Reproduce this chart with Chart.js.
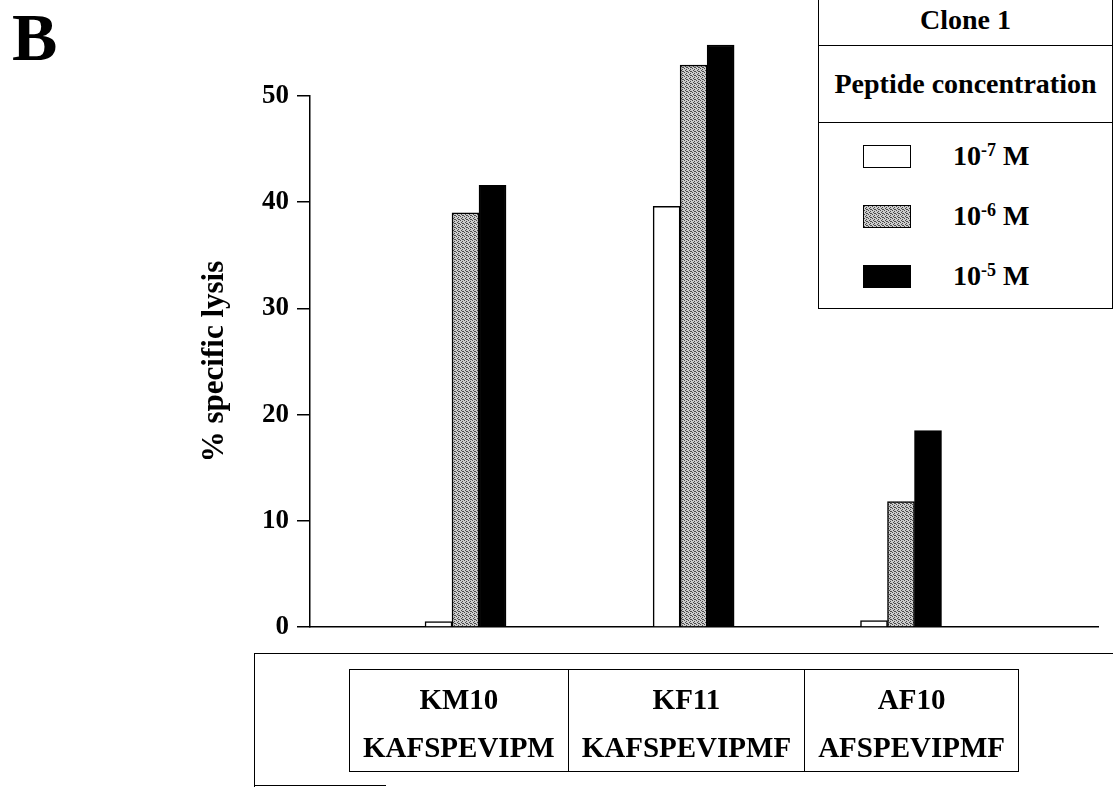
<!DOCTYPE html>
<html>
<head>
<meta charset="utf-8">
<script src="https://cdn.jsdelivr.net/npm/chart.js@4.4.1/dist/chart.umd.min.js"></script>
<style>
  body { margin: 0; background: #fff; overflow: hidden; }
  #wrap { position: relative; width: 1113px; height: 787px; font-family: 'Liberation Serif', 'Times New Roman', serif; font-weight: bold; color: #000; }
  #chart { position: absolute; left: 0; top: 0; }
  .panel { position: absolute; left: 12px; top: 3px; font-size: 68px; line-height: 68px; }
  #legend { position: absolute; left: 818px; top: -2px; width: 295px; height: 311px; box-sizing: border-box; border: 1.5px solid #000; font-size: 28px; background: #fff; }
  #legend .head1 { height: 46px; line-height: 42px; text-align: center; border-bottom: 1.5px solid #000; }
  #legend .head2 { height: 76px; line-height: 76px; text-align: center; border-bottom: 1.5px solid #000; white-space: nowrap; }
  #legend .items { padding-top: 3px; }
  #legend .item { position: relative; height: 60px; }
  #legend .sw { position: absolute; left: 44px; top: 19px; width: 46px; height: 21px; border: 1.5px solid #000; }
  #legend .lab { position: absolute; left: 134px; top: 0; line-height: 60px; }
  #legend sup { font-size: 18px; vertical-align: 9px; line-height: 0; }
  #frame { position: absolute; left: 254px; top: 653px; width: 900px; height: 200px; border-top: 1.5px solid #000; border-left: 1.5px solid #000; }
  #frameFoot { position: absolute; left: 254px; top: 785px; width: 132px; border-top: 1.5px solid #000; }
  #peptides { position: absolute; left: 349px; top: 669px; border-collapse: collapse; font-size: 29px; }
  #peptides td { border: 1.5px solid #000; padding: 5px 13px 0 13px; text-align: center; line-height: 48px; height: 98px; box-sizing: border-box; white-space: nowrap; }
</style>
</head>
<body>
<div id="wrap">
  <canvas id="chart" width="1113" height="787"></canvas>
  <div class="panel">B</div>
  <div id="legend"></div>
  <div id="frame"></div>
  <div id="frameFoot"></div>
  <table id="peptides"><tr id="pepRow"></tr></table>
</div>
<script>
const peptides = ['KM10', 'KF11', 'AF10'];
const sequences = ['KAFSPEVIPM', 'KAFSPEVIPMF', 'AFSPEVIPMF'];
const concExponents = [-7, -6, -5];
const lysis1e7 = [0.5, 39.6, 0.6];
const lysis1e6 = [39.0, 52.9, 11.8];
const lysis1e5 = [41.6, 54.8, 18.5];
const yTicks = [0, 10, 20, 30, 40, 50];

// slot layout on the category axis (the groups are not evenly spaced in the figure)
const slotCount = 38;
const groupSlots = [7, 18, 28];

function stipple() {
    const c = document.createElement('canvas');
    c.width = 4; c.height = 4;
    const g = c.getContext('2d');
    g.fillStyle = '#cccccc';
    g.fillRect(0, 0, 4, 4);
    g.fillStyle = '#4a4a4a';
    [[0, 0], [2, 1], [1, 2], [3, 3], [2, 3]].forEach(([x, y]) => g.fillRect(x, y, 1, 1));
    return c;
}

function spread(values) {
    const out = new Array(slotCount).fill(null);
    groupSlots.forEach((s, i) => { out[s] = values[i]; });
    return out;
}

function init() {
    const tile = stipple();
    const ctx = document.getElementById('chart').getContext('2d');
    const fills = ['#ffffff', ctx.createPattern(tile, 'repeat'), '#000000'];
    const cssFills = ['#ffffff', `url(${tile.toDataURL()})`, '#000000'];
    const series = [lysis1e7, lysis1e6, lysis1e5];

    const labels = new Array(slotCount).fill('');
    groupSlots.forEach((s, i) => { labels[s] = peptides[i]; });

    const datasets = series.map((vals, i) => ({
        label: `10^${concExponents[i]} M`,
        data: spread(vals),
        backgroundColor: fills[i],
        borderColor: '#000',
        borderWidth: 1.5,
        barThickness: 27,
        clip: false
    }));

    const font = { family: "'Liberation Serif', 'Times New Roman', serif", weight: 'bold' };

    new Chart(ctx, {
        type: 'bar',
        data: { labels, datasets },
        options: {
            responsive: false,
            animation: false,
            layout: { padding: { left: 190, right: 15, top: 96, bottom: 160 } },
            plugins: { legend: { display: false }, tooltip: { enabled: false } },
            scales: {
                x: {
                    grid: { display: false },
                    border: { display: true, color: '#000', width: 1.5 },
                    ticks: { display: false },
                    afterFit: axis => { axis.height = 0; }
                },
                y: {
                    min: 0,
                    max: 50,
                    afterBuildTicks: axis => { axis.ticks = yTicks.map(v => ({ value: v })); },
                    grid: { display: true, drawOnChartArea: false, drawTicks: true, tickLength: 13, color: '#000', lineWidth: 1.5 },
                    border: { display: true, color: '#000', width: 1.5 },
                    ticks: { color: '#000', padding: 8, font: { ...font, size: 27 } },
                    title: { display: true, text: '% specific lysis', color: '#000', padding: { top: 6, bottom: 0 }, font: { ...font, size: 31 } },
                    afterFit: axis => { axis.width = 120; }
                }
            }
        }
    });

    const legend = document.getElementById('legend');
    legend.innerHTML = '<div class="head1">Clone 1</div><div class="head2">Peptide concentration</div>';
    const items = document.createElement('div');
    items.className = 'items';
    concExponents.forEach((e, i) => {
        const row = document.createElement('div');
        row.className = 'item';
        row.innerHTML = `<div class="sw" style="background:${cssFills[i]}"></div><div class="lab">10<sup>${e}</sup> M</div>`;
        items.appendChild(row);
    });
    legend.appendChild(items);

    const pepRow = document.getElementById('pepRow');
    peptides.forEach((p, i) => {
        const td = document.createElement('td');
        td.innerHTML = `${p}<br>${sequences[i]}`;
        pepRow.appendChild(td);
    });
}

document.addEventListener('DOMContentLoaded', init);
</script>
</body>
</html>
